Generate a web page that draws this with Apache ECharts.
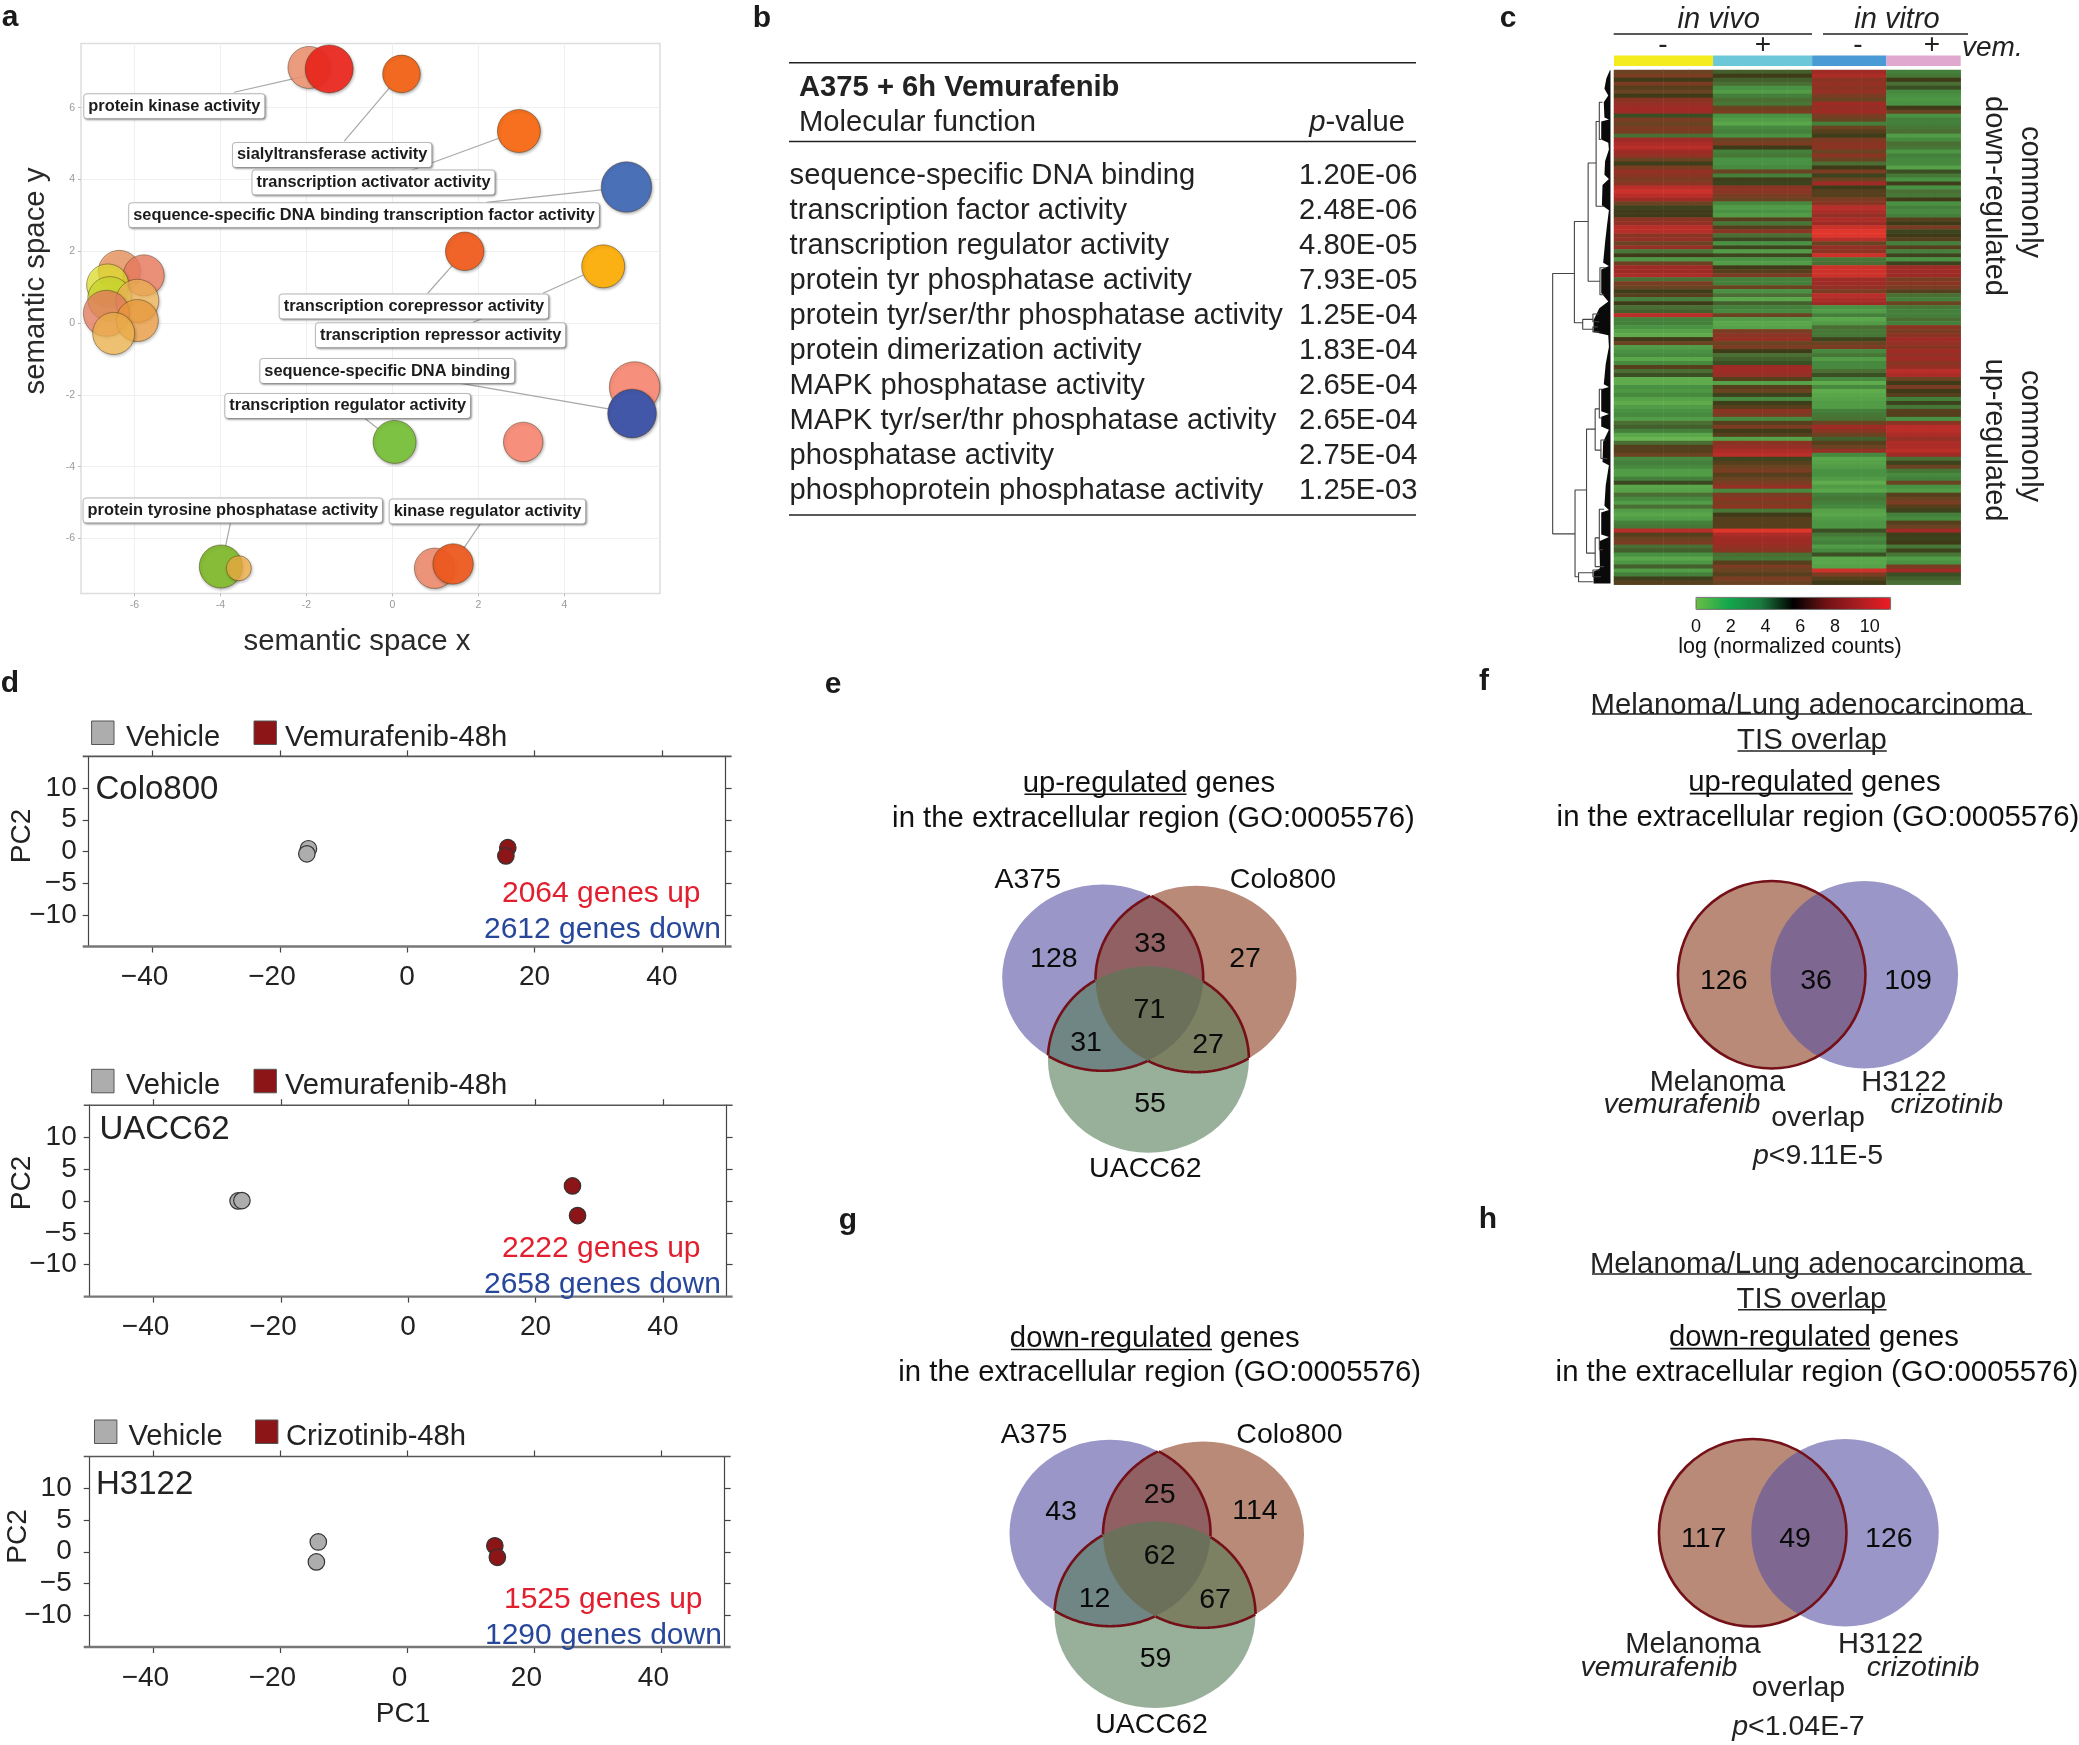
<!DOCTYPE html>
<html><head><meta charset="utf-8"><style>html,body{margin:0;padding:0;background:#fff}#c{width:2079px;height:1745px}</style>
<script src="https://cdn.jsdelivr.net/npm/echarts@6/dist/echarts.min.js"></script></head><body><div id="c"></div>
<script>
// ---------- panel a: semantic space bubbles ----------
const bubbleX=[-1.94,-1.47,0.21,2.94,5.44,1.68,4.90,5.63,5.57,0.05,3.04,-3.99,-3.57,0.98,1.41,-6.35,-5.78,-6.62,-6.57,-5.93,-6.65,-5.93,-6.48];
const bubbleY=[7.12,7.08,6.94,5.35,3.79,2.00,1.58,-1.78,-2.52,-3.31,-3.31,-6.78,-6.83,-6.83,-6.71,1.44,1.33,1.06,0.68,0.62,0.27,0.07,-0.29];
const bubbleSize=[42,48,37.6,43,50.5,38.5,43,50.5,48.7,43,39.5,43,25,40.4,40.4,42,41,42,44,43,46,42,42];
const bubbleColor=['rgba(245,150,115,.85)','rgba(238,40,30,.92)','#f26a21','#f6701f','#4a70b8','#f0642a','#fbb013','#f68f7c','#4357a8','#7dc242','#f68f7c','#86bc38','rgba(251,180,70,.75)','rgba(245,140,110,.85)','rgba(241,90,30,.92)','rgba(247,150,90,.72)','rgba(245,130,100,.78)','rgba(238,238,50,.72)','rgba(215,230,50,.72)','rgba(253,190,90,.72)','rgba(244,130,100,.72)','rgba(251,165,65,.72)','rgba(253,190,80,.72)'];
const termNames=['protein kinase activity','sialyltransferase activity','transcription activator activity','sequence-specific DNA binding transcription factor activity','transcription corepressor activity','transcription repressor activity','sequence-specific DNA binding','transcription regulator activity','protein tyrosine phosphatase activity','kinase regulator activity'];
const termX=[-5.07,-1.40,-0.44,-0.66,0.50,1.12,-0.12,-1.04,-3.71,2.21];
const termY=[6.07,4.71,3.94,3.03,0.49,-0.31,-1.31,-2.28,-5.19,-5.22];
const connectors=[[-3.68,6.43,-2.03,6.88],[-1.12,5.07,-0.07,6.55],[0.43,4.25,2.46,5.14],[2.19,3.36,4.86,3.71],[0.82,0.83,1.39,1.60],[3.50,0.83,4.43,1.33],[1.87,0.02,2.08,0.12],[1.39,-1.64,5.02,-2.39],[-0.69,-2.61,-0.32,-2.96],[-3.76,-5.54,-3.88,-6.22],[2.05,-5.58,1.66,-6.27]];
const semXTicks=[-6,-4,-2,0,2,4], semYTicks=[-6,-4,-2,0,2,4,6];
// ---------- panel b: table ----------
const mfNames=['sequence-specific DNA binding','transcription factor activity','transcription regulator activity','protein tyr phosphatase activity','protein tyr/ser/thr phosphatase activity','protein dimerization activity','MAPK phosphatase activity','MAPK tyr/ser/thr phosphatase activity','phosphatase activity','phosphoprotein phosphatase activity'];
const mfP=['1.20E-06','2.48E-06','4.80E-05','7.93E-05','1.25E-04','1.83E-04','2.65E-04','2.65E-04','2.75E-04','1.25E-03'];
// ---------- panel c: heatmap; one row = [in vivo -, in vivo +, in vitro -, in vitro +] ----------
const groupSamples=[4,4,3,3];
const heatRows=[
[7,4.5,9,3],[7.5,6,9.5,3.5],[6,4.5,8,6],[7.5,4,8.5,4],[6.5,2,8,5],[7,1.5,8.5,2.5],[6,3,7.5,2],[8,4,7,1.8],[8.5,3.5,9,2],[9,7,8.5,6],[9,7.5,9,7],[5,2,7.5,2],[7.5,1.5,7,3],[7,1,3,3],[7.5,2.5,7,3.5],[7.5,3,6.5,4],[4,2,5.8,1.5],[9,7,7.5,2.5],[9.5,7.5,8,4],[10,6,8,3.5],[9,3,7,1.8],[8.5,3.5,8,3],[7,2,7,2.5],[5.8,2,4,2.5],[7.5,2.5,6,1.2],[8.5,7,7.5,5],[8,3,5.6,3.5],[7.5,5.8,7,2],[8,5.6,9,5.8],[10,8,6,2],[10.5,8,6.5,4],[10,7.5,6.5,3.5],[9,7,7.5,6],[7,2.5,8,2],[5.6,1.5,10,3],[6,2,9.5,2.5],[6,1.5,8.5,3],[8,6.5,9.5,6.5],[8.5,3.5,9,6],[10,6.5,10.5,7.5],[10,8,11,5.5],[8,4,11,6],
[8.5,5.3,10,6.5],[7,2,7,3],[8.5,5.5,8.5,6.5],[3.5,1.5,8,3],[6,5.5,10.5,5.6],[1.8,2,3.5,2],[7,1.5,4,5.6],[9,6,10.5,9],[9,6.5,10.5,9],[9.5,7.5,10.5,9],[4,3,9,7.5],[7.5,3,9,8],[7,7,8.5,7.5],[5.8,2,7.5,6.5],[6.5,4,10,4],[3,1,9.5,3],[6,4.5,9,7],[4,3,2,3.5],[4.5,2.5,1.5,3],[10,7,3,3],[3,1.5,1,4],[3,1,1.5,3],[2,1.2,4,8],[1.2,7.5,3.5,7.5],[0.8,8,3.5,8],[6,8.5,5.5,9],[7,7,7,8.5],[1.5,7.5,7.5,8],[2,6,2.5,9],[2.5,4,3.5,8.5],[1,4.5,1.5,9],[2.5,5,2.5,8],[6.5,9,2.5,8.5],[4,9,4,10],[5,8.5,5,9.5],[0.8,6.5,2.5,7],[0.8,1.2,0.8,6],[2,6.5,2.5,7.5],[1.8,7,0.8,6],[2.5,5.6,1,6.5],[1.2,2.5,1.2,3],[0.8,5.8,1.5,5.6],[1.5,6.5,1.5,3.5],[2,8,3,6.5],
[2.5,7.5,3.5,6.5],[1.5,2.5,3.8,2],[4,6.5,7,8],[4.5,7.5,9,10],[3,6,8,10],[1,6.5,7,9.5],[0.5,1.2,4.5,8.5],[4,8,6.5,9.5],[6.5,8.5,7,9.5],[6.5,9.5,8.5,10],[7,10,2.5,9],[2.5,5.6,1,4],[3,6.5,1.2,5.6],[2.5,7,1.5,7],[1.5,7.5,2,3.5],[1.5,6.5,2,2.5],[3,7,1.5,3],[5.3,7.5,0.8,7],[1,8.5,1.5,2],[1.2,2.5,1,1.5],[4,7.5,3,6.5],[2.5,8,3.5,7],[1.5,7.5,3,7.5],[4,8,2.5,6.5],[1.5,3.5,1.2,5.6],[1,6,1,3],[1.5,6.5,1.5,2.5],[3,6.5,1.8,6.5],[3.5,6.5,1.8,7],[10,11,5,9],[6.5,9.5,3.5,5.8],[7,9,2.5,5.6],[7.5,9,3,6],[4,8.5,1.5,3.5],[4.5,8,2.5,5.6],[2,4,5,3.5],[1,3.5,1,1.5],[1.8,6.5,1,2],[4.5,7.5,1.2,7.5],[1.5,7,10.5,9],[3,6.5,7.5,5],[5.8,7.5,6.5,4.5],[6.5,7,6,4]];
const colorbarTicks=[0,2,4,6,8,10];
// dendrogram joins: [parent height, row of first child, height of first child, row of second child, height of second child]
const dendroJoins=[[24,632,92,1403,94],[92,478,135,778,118],[135,305,160,655,172],[160,182,170,433,185],[170,125,180,235,175],[172,615,190,695,185],[118,768,150,797,150],[150,752,168,775,170],[150,790,165,805,170],[94,1273,130,1530,105],[130,1093,157,1460,157],[157,1033,170,1155,175],[170,975,180,1060,178],[175,1125,190,1180,195],[157,1415,170,1500,185],[170,1330,185,1450,182],[105,1518,150,1545,150],[150,1510,170,1530,175]];
const leafOutline=[[203,30],[192,55],[186,85],[198,105],[184,125],[186,170],[200,176],[176,182],[176,235],[198,245],[200,265],[188,300],[186,340],[200,352],[180,370],[178,430],[200,445],[194,490],[188,540],[182,600],[200,610],[176,620],[176,690],[198,715],[170,735],[152,770],[152,805],[198,815],[200,850],[190,900],[184,960],[200,968],[176,975],[176,1040],[200,1048],[176,1056],[176,1085],[200,1095],[182,1130],[180,1190],[200,1200],[190,1260],[186,1320],[200,1332],[176,1340],[176,1405],[200,1412],[170,1425],[172,1505],[152,1515],[152,1550],[205,1550],[205,30]];
// ---------- panel d: PCA ----------
const pcaNames=['Colo800','UACC62','H3122'];
const vehicleX=[[-15.5,-15.75],[-26.7,-26.1],[-14,-14.3]], vehicleY=[[0.43,-0.38],[0,0.05],[1.54,-1.6]];
const treatedX=[[15.8,15.5],[25.8,26.6],[13.8,14.2]], treatedY=[[0.6,-0.7],[2.35,-2.3],[0.93,-0.88]];
const treatedNames=['Vemurafenib-48h','Vemurafenib-48h','Crizotinib-48h'];
const genesUp=['2064 genes up','2222 genes up','1525 genes up'], genesDown=['2612 genes down','2658 genes down','1290 genes down'];
const pc1Ticks=[-40,-20,0,20,40], pc2Ticks=[-10,-5,0,5,10];
// ---------- panels e-h: Venn ----------
const vennE={sets:[[102.7,107.6],[196,109],[148.4,189.5]],names:['A375','Colo800','UACC62'],counts:[128,33,27,71,31,27,55],countX:[53.9,150.2,245,149.4,86,208,150],countY:[86.8,71.7,86.8,137.8,170.9,173.3,232.5]};
const vennG={sets:[[110,108],[203.5,109.6],[155,189.8]],names:['A375','Colo800','UACC62'],counts:[43,25,114,62,12,67,59],countX:[61,159.7,255,159.7,94.5,215,155.6],countY:[85.4,68,83.7,129.5,172,173,232.4]};
const vennF={sets:[[111.7,104.7],[204.3,104.7]],counts:[126,36,109],countX:[63.7,156,248],countY:[108.9,108.9,108.9]};
const vennH={sets:[[102.7,102.8],[195,102.8]],counts:[117,49,126],countX:[53.7,145,238.9],countY:[107,107,107]};

// ---------- layout and style ----------
const F='"Liberation Sans",Arial,Helvetica,sans-serif';
const grid=[],xAxis=[],yAxis=[],series=[],g=[];
function T(text,x,y,size,o={}){
  return {type:'text',x,y:y+(o.rot?0:2),rotation:o.rot||0,z:100,silent:true,style:{text,fill:o.color||'#222',font:`${o.italic?'italic ':''}${o.bold?'bold ':''}${size}px ${F}`,textAlign:o.align||'center',textVerticalAlign:'middle',rich:o.rich}};
}
function L(x1,y1,x2,y2,color='#222',w=1.5){return {type:'line',z:100,silent:true,shape:{x1,y1,x2,y2},style:{stroke:color,lineWidth:w}};}
function addGrid(left,top,width,height){grid.push({left,top,width,height,containLabel:false,show:false});return grid.length-1;}
function hiddenAxes(gi,xmin,xmax,ymin,ymax,inv){
  xAxis.push({type:'value',gridIndex:gi,min:xmin,max:xmax,show:false});
  yAxis.push({type:'value',gridIndex:gi,min:ymin,max:ymax,show:false,inverse:!!inv});
  return xAxis.length-1;
}
const zipXY=(a,b)=>a.map((v,i)=>[v,b[i]]);

// panel letters
[['a',10,16],['b',762,17],['c',1508,17],['d',10,682],['e',833,683],['f',1484,680],['g',848,1219],['h',1488,1218]].forEach(p=>g.push(T(p[0],p[1],p[2],30,{bold:true,color:'#1a1a1a'})));

// ---- a ----
{
 const gi=addGrid(81,43.4,579,550);
 grid[gi].show=true;grid[gi].borderColor='#dddddd';grid[gi].borderWidth=1.5;grid[gi].backgroundColor='#fff';
 const ax=(vals)=>({axisLine:{show:false,onZero:false},axisTick:{show:true,length:3,lineStyle:{color:'#bbb'},customValues:vals},axisLabel:{customValues:vals,color:'#9a9a9a',fontSize:10.5,fontFamily:F,margin:6,formatter:v=>String(v)},splitLine:{show:true,lineStyle:{color:'#f0f0f0',width:1}}});
 xAxis.push(Object.assign({type:'value',gridIndex:gi,min:-7.24,max:6.22},ax(semXTicks)));
 yAxis.push(Object.assign({type:'value',gridIndex:gi,min:-7.53,max:7.79},ax(semYTicks)));
 const i=xAxis.length-1;
 connectors.forEach(c=>series.push({type:'line',xAxisIndex:i,yAxisIndex:i,z:2,data:[[c[0],c[1]],[c[2],c[3]]],showSymbol:false,silent:true,lineStyle:{color:'#a8a8a8',width:1.2}}));
 series.push({type:'scatter',xAxisIndex:i,yAxisIndex:i,z:3,silent:true,clip:false,
  data:bubbleX.map((x,k)=>({value:[x,bubbleY[k],bubbleSize[k]],itemStyle:{color:bubbleColor[k]}})),
  symbolSize:v=>v[2],itemStyle:{opacity:1,borderColor:'rgba(70,50,20,.45)',borderWidth:1,shadowBlur:3,shadowOffsetX:1,shadowOffsetY:1.5,shadowColor:'rgba(0,0,0,.3)'}});
 series.push({type:'scatter',xAxisIndex:i,yAxisIndex:i,z:4,silent:true,symbolSize:1,itemStyle:{opacity:1,color:'transparent'},
  data:termNames.map((n,k)=>({name:n,value:[termX[k],termY[k]]})),
  label:{show:true,opacity:1,position:'inside',offset:[0,1],formatter:'{b}',fontFamily:F,fontWeight:'bold',fontSize:16.4,color:'#1c1c1c',backgroundColor:'#fff',borderColor:'#bdbdbd',borderWidth:1,borderRadius:3,padding:[4,4,4,4],shadowColor:'rgba(0,0,0,.3)',shadowBlur:2,shadowOffsetX:1,shadowOffsetY:1}});
 g.push(T('semantic space x',357,640,29.4,{color:'#2a2a2a'}));
 g.push(T('semantic space y',36,281,29.4,{rot:Math.PI/2,color:'#2a2a2a'}));
}

// ---- b ----
g.push(L(789,62.7,1416,62.7),L(789,141.4,1416,141.4),L(789,515,1416,515));
g.push(T('A375 + 6h Vemurafenib',799,86,29.2,{bold:true,align:'left'}));
g.push(T('Molecular function',799,121,29.2,{align:'left'}));
g.push(T('{i|p}{r|-value}',1405,121,29.2,{align:'right',rich:{i:{fontStyle:'italic',fontSize:29.2,fontFamily:F,color:'#222'},r:{fontSize:29.2,fontFamily:F,color:'#222'}}}));
mfNames.forEach((n,k)=>{const y=173.5+k*35.05;g.push(T(n,789.6,y,29.2,{align:'left'}));g.push(T(mfP[k],1417.5,y,29.2,{align:'right'}));});

// ---- c ----
{
 const colCount=groupSamples.reduce((a,b)=>a+b,0);
 const hm={left:1614,top:70,width:346.7,height:514.7};
 const gi=addGrid(hm.left,hm.top,hm.width,hm.height);
 xAxis.push({type:'category',gridIndex:gi,show:false,data:Array.from({length:colCount},(_,i)=>i)});
 yAxis.push({type:'category',gridIndex:gi,show:false,inverse:true,data:heatRows.map((_,i)=>i)});
 const i=xAxis.length-1,data=[];
 heatRows.forEach((r,ri)=>{let c=0;r.forEach((v,gr)=>{for(let s=0;s<groupSamples[gr];s++)data.push([c++,ri,v]);});});
 series.push({type:'heatmap',xAxisIndex:i,yAxisIndex:i,data,silent:true,progressive:0,itemStyle:{borderWidth:0}});
 var heatIndex=series.length-1;
 // sample strip
 const stripColors=['#f5ec1e','#6cc8d8','#4a9ad6','#e0a8cf'];let c=0;
 groupSamples.forEach((n,k)=>{const w=hm.width/colCount;g.push({type:'rect',z:100,silent:true,shape:{x:hm.left+c*w,y:55.5,width:n*w,height:10.5},style:{fill:stripColors[k]}});c+=n;});
 g.push(L(1613.7,34,1812,34),L(1823,34,1968,34));
 g.push(T('in vivo',1718.7,18,29,{italic:true}),T('in vitro',1897,18,29,{italic:true}));
 [['-',1663],['+',1763],['-',1858],['+',1932]].forEach(p=>g.push(T(p[0],p[1],43,28)));
 g.push(T('vem.',1962,46,28,{italic:true,align:'left'}));
 g.push(T('commonly',2030,192,29,{rot:-Math.PI/2}),T('down-regulated',1994,196,29,{rot:-Math.PI/2}),T('commonly',2030,436,29,{rot:-Math.PI/2}),T('up-regulated',1994,440,29,{rot:-Math.PI/2}));
 // colorbar ticks
 colorbarTicks.forEach(v=>g.push(T(String(v),1696+v/11.2*194.6,625,18,{color:'#111'})));
 g.push(T('log (normalized counts)',1790,645,21.5,{color:'#111'}));
 g.push({type:'rect',z:100,silent:true,shape:{x:1696,y:597.4,width:194.6,height:12},style:{fill:null,stroke:'#555',lineWidth:.8}});
 // dendrogram
 const gd=addGrid(1545,69.5,65.5,514);
 const d=hiddenAxes(gd,0,205,28,1550,true);
 dendroJoins.forEach(n=>series.push({type:'line',xAxisIndex:d,yAxisIndex:d,showSymbol:false,silent:true,lineStyle:{color:'#444',width:1.1},data:[[n[2],n[1]],[n[0],n[1]],[n[0],n[3]],[n[4],n[3]]]}));
 series.push({type:'custom',xAxisIndex:d,yAxisIndex:d,silent:true,data:[[0,0]],renderItem:(p,api)=>({type:'polygon',shape:{points:leafOutline.map(q=>api.coord(q))},style:{fill:'#0a0a0a'}})});
}

// ---- d ----
const plots=[{l:88.7,r:725.6,t:756.4,b:946.5,ym:12,xs:false,legendY:733,sq:91.6,txt:[126,285],sq2:254,upY:892,dnY:928,nameX:95.5,nameY:788.4,pcx:22,pcy:836,upL:502,dnL:484},
 {l:89.7,r:726.6,t:1105.2,b:1296.6,ym:13,xs:false,legendY:1081.3,sq:91.6,txt:[126,285],sq2:254,upY:1247,dnY:1282.7,nameX:99.4,nameY:1128,pcx:22.5,pcy:1183,upL:502,dnL:484},
 {l:89.7,r:724.7,t:1456.5,b:1647,ym:18,xs:true,legendY:1432,sq:94.5,txt:[128.5,286],sq2:255.5,upY:1598,dnY:1633.8,nameX:96,nameY:1483,pcx:18.4,pcy:1536.5,upL:504,dnL:485}];
plots.forEach((p,k)=>{
 const gi=addGrid(p.l,p.t,p.r-p.l,p.b-p.t);
 const fmtX=v=>{const s=v<0?'\u2212'+(-v):String(v);return (p.xs||v<0)?s+'  ':s;};
 const fmtY=v=>v<0?'\u2212'+(-v):String(v);
 const tick=(vals,c='#444')=>({show:true,length:6,lineStyle:{color:c,width:1.2},customValues:vals});
 xAxis.push({type:'value',gridIndex:gi,position:'bottom',min:-50,max:50,axisLine:{show:false,onZero:false},splitLine:{show:false},axisTick:tick(pc1Ticks),axisLabel:{customValues:pc1Ticks,formatter:fmtX,fontSize:28,fontFamily:F,color:'#222',margin:17}});
 yAxis.push({type:'value',gridIndex:gi,position:'left',min:-15,max:15,axisLine:{show:true,onZero:false,lineStyle:{color:'#444',width:1.2}},splitLine:{show:false},axisTick:tick(pc2Ticks),axisLabel:{customValues:pc2Ticks,formatter:fmtY,fontSize:28,fontFamily:F,color:'#222',margin:p.ym,padding:[18,0,0,0]}});
 const i=xAxis.length-1;
 xAxis.push({type:'value',gridIndex:gi,position:'top',min:-50,max:50,axisLine:{show:false,onZero:false},splitLine:{show:false},axisTick:tick(pc1Ticks),axisLabel:{show:false}});
 yAxis.push({type:'value',gridIndex:gi,position:'right',min:-15,max:15,axisLine:{show:true,onZero:false,lineStyle:{color:'#444',width:1.2}},splitLine:{show:false},axisTick:tick(pc2Ticks),axisLabel:{show:false}});
 series.push({type:'scatter',xAxisIndex:i,yAxisIndex:i,symbolSize:16.5,silent:true,data:zipXY(vehicleX[k],vehicleY[k]),itemStyle:{opacity:1,color:'#adadad',borderColor:'#333',borderWidth:1.2}});
 series.push({type:'scatter',xAxisIndex:i,yAxisIndex:i,symbolSize:16.5,silent:true,data:zipXY(treatedX[k],treatedY[k]),itemStyle:{opacity:1,color:'#8b1517',borderColor:'#333',borderWidth:1.2}});
 g.push(L(p.l-6,p.t,p.r+6,p.t,'#555',1.6),L(p.l-6,p.b,p.r+6,p.b,'#777',2.4));
 g.push({type:'rect',z:100,silent:true,shape:{x:p.sq,y:p.legendY-12,width:22.4,height:23.5},style:{fill:'#adadad',stroke:'#555',lineWidth:1}});
 g.push({type:'rect',z:100,silent:true,shape:{x:p.sq2,y:p.legendY-12,width:22.4,height:23.5},style:{fill:'#8b1517',stroke:'#555',lineWidth:1}});
 g.push(T('Vehicle',p.txt[0],p.legendY+3,29.2,{align:'left'}),T(treatedNames[k],p.txt[1],p.legendY+3,29.2,{align:'left'}));
 g.push(T(pcaNames[k],p.nameX,p.nameY,33,{align:'left'}));
 g.push(T(genesUp[k],p.upL,p.upY,30,{align:'left',color:'#e21f2e'}),T(genesDown[k],p.dnL,p.dnY,30,{align:'left',color:'#27479b'}));
 g.push(T('PC2',p.pcx,p.pcy,28,{rot:Math.PI/2}));
});
g.push(T('PC1',403,1712.7,28));

// ---- Venn ----
const A='rgba(87,82,163,.6)',B='rgba(138,60,30,.6)',C='rgba(83,123,87,.6)',OUT='#741018';
function countLabels(i,v){
 series.push({type:'scatter',xAxisIndex:i,yAxisIndex:i,z:6,symbolSize:1,silent:true,itemStyle:{opacity:1,color:'transparent'},
  data:v.counts.map((n,k)=>({value:[v.countX[k],v.countY[k]],name:String(n)})),
  label:{show:true,opacity:1,position:'inside',offset:[0,2],formatter:'{b}',fontFamily:F,fontSize:28.5,color:'#0a0a0a'}});
}
function venn3(v,ox,oy,w,h){
 const gi=addGrid(ox,oy,w,h),i=hiddenAxes(gi,0,w,0,h,true);
 const size=[201,186.4];
 v.sets.forEach((s,k)=>series.push({type:'scatter',xAxisIndex:i,yAxisIndex:i,z:3+k*.01,silent:true,clip:false,symbolSize:size,data:[s],itemStyle:{opacity:1,color:[A,B,C][k]}}));
 series.push({type:'custom',xAxisIndex:i,yAxisIndex:i,z:5,silent:true,clip:false,data:[[0,0]],renderItem:(p,api)=>{
  const cs=v.sets.map(s=>api.coord(s)),rx=size[0]/2,ry=size[1]/2,children=[];
  const inside=(q,c)=>((q[0]-c[0])/rx)**2+((q[1]-c[1])/ry)**2<1;
  cs.forEach((c,k)=>{
   const pts=[];for(let d=0;d<720;d++){const a=d/2*Math.PI/180;pts.push([c[0]+rx*Math.cos(a),c[1]+ry*Math.sin(a)]);}
   const on=pts.map(q=>cs.filter((o,j)=>j!==k&&inside(q,o)).length===1);
   let s=on.findIndex(x=>!x),run=[];
   for(let n=0;n<=720;n++){const j=(s+n)%720;if(on[j])run.push(pts[j]);else if(run.length){children.push({type:'polyline',shape:{points:run},style:{stroke:OUT,lineWidth:2.6,fill:null}});run=[];}}
  });
  return {type:'group',children};
 }});
 countLabels(i,v);
}
function venn2(v,ox,oy,w,h){
 const gi=addGrid(ox,oy,w,h),i=hiddenAxes(gi,0,w,0,h,true);
 const d=187.5;
 series.push({type:'scatter',xAxisIndex:i,yAxisIndex:i,z:3,silent:true,clip:false,symbolSize:d,data:[v.sets[0]],itemStyle:{opacity:1,color:B}});
 series.push({type:'scatter',xAxisIndex:i,yAxisIndex:i,z:3.1,silent:true,clip:false,symbolSize:d,data:[v.sets[1]],itemStyle:{opacity:1,color:A}});
 series.push({type:'scatter',xAxisIndex:i,yAxisIndex:i,z:5,silent:true,clip:false,symbolSize:d,data:[v.sets[0]],itemStyle:{opacity:1,color:'transparent',borderColor:OUT,borderWidth:2.6}});
 countLabels(i,v);
}
venn3(vennE,1000,870,310,320);venn3(vennG,1000,1425,310,320);
venn2(vennF,1660,870,310,220);venn2(vennH,1650,1430,310,220);
// venn set names
[[vennE,1000,870,[[27.8,8],[282.9,8],[145.3,297.6]]],[vennG,1000,1425,[[34,8.6],[289.4,8.6],[151.5,298]]]].forEach(a=>a[3].forEach((q,k)=>g.push(T(a[0].names[k],a[1]+q[0],a[2]+q[1],28.5,{color:'#111'}))));
function tisNames(mx,hx,vx,cx,ox,y1,y2,y3,y4,pText){
 g.push(T('Melanoma',mx,y1,29,{}),T('H3122',hx,y1,29),T('vemurafenib',vx,y2,28.5,{italic:true}),T('crizotinib',cx,y2,28.5,{italic:true}),T('overlap',ox,y3,28.5));
 g.push(T('{i|p}{r|'+pText+'}',ox,y4,28.5,{rich:{i:{fontStyle:'italic',fontSize:28.5,fontFamily:F,color:'#222'},r:{fontSize:28.5,fontFamily:F,color:'#222'}}}));
}
tisNames(1717.4,1904,1682,1946.8,1818,1081,1103.5,1116,1154,'<9.11E-5');
tisNames(1693,1880.7,1658.9,1923,1798.4,1642.5,1665.8,1686,1725,'<1.04E-7');
// titles
const region='in the extracellular region (GO:0005576)',tis1='Melanoma/Lung adenocarcinoma ',tis2='TIS overlap',TS=29.3;
g.push(T('up-regulated genes',1149,782,TS,{color:'#111'}),T(region,1153.5,816.7,TS,{color:'#111'}),L(1024.5,794.3,1186.5,794.3,'#111',1.6));
g.push(T('down-regulated genes',1154.8,1337.3,TS,{color:'#111'}),T(region,1159.7,1371,TS,{color:'#111'}),L(1011,1349.5,1212,1349.5,'#111',1.6));
g.push(T(tis1,1812,703.7,TS),L(1592,714,2032,714,'#222',1.6),T(tis2,1812,738.5,TS),L(1737.5,751,1886.8,751,'#222',1.6));
g.push(T('up-regulated genes',1814.5,781,TS,{color:'#111'}),L(1689.8,793.6,1852.8,793.6,'#111',1.6),T(region,1818,815.6,TS,{color:'#111'}));
g.push(T(tis1,1811.4,1262.6,TS),L(1592,1274,2031.6,1274,'#222',1.6),T(tis2,1811.4,1298,TS),L(1738,1309.8,1886.5,1309.8,'#222',1.6));
g.push(T('down-regulated genes',1813.9,1336,TS,{color:'#111'}),L(1670.3,1348.6,1870,1348.6,'#111',1.6),T(region,1817,1370.6,TS,{color:'#111'}));

const chart=echarts.init(document.getElementById('c'),null,{width:2079,height:1745,renderer:'canvas'});
chart.setOption({animation:false,backgroundColor:'#fff',textStyle:{fontFamily:F},grid,xAxis,yAxis,series,graphic:{elements:g},
 visualMap:[
  {type:'continuous',seriesIndex:[],min:0,max:11.2,orient:'horizontal',left:1696,top:597.4,itemWidth:12,itemHeight:194.6,padding:0,calculable:false,text:null,showLabel:false,realtime:false,inRange:{color:['#6abd45','#12a84c','#1a7a3e','#000000','#6e1214','#a91e22','#ed1c24']}},
  {type:'continuous',show:false,seriesIndex:heatIndex,min:0,max:11,inRange:{color:['#76c25a','#5aa64a','#4a9243','#44803b','#4a6e33','#3a5024','#3f3a18','#6a4422','#8a3524','#9e2b25','#b92e29','#df352b']}}]});
</script></body></html>
